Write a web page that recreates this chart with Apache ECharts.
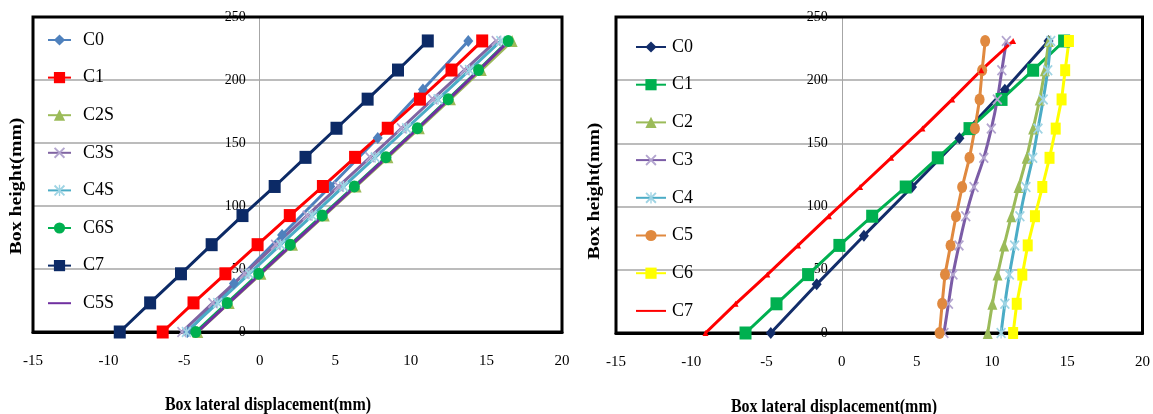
<!DOCTYPE html>
<html>
<head>
<meta charset="utf-8">
<script src="https://cdn.jsdelivr.net/npm/echarts@6/dist/echarts.min.js"></script>
<style>
  html, body { margin: 0; padding: 0; background: #fff; }
  #wrap { position: relative; width: 1153px; height: 414px; }
  #left { position: absolute; left: 0; top: 0; width: 580px; height: 414px; }
  #right { position: absolute; left: 580px; top: 0; width: 573px; height: 414px; }
</style>
</head>
<body>
<div id="wrap"><div id="left"></div><div id="right"></div></div>
<script>
// Axis ticks (mm)
const xTicks = [-15, -10, -5, 0, 5, 10, 15, 20];
const yTicks = [0, 50, 100, 150, 200, 250];

// Measurement heights along the box wall (mm)
const heights11 = [0, 23.1, 46.2, 69.3, 92.4, 115.5, 138.6, 161.7, 184.8, 207.9, 231];
const heights7 = [0, 38.5, 77, 115.5, 154, 192.5, 231];

// Left panel: lateral displacement (mm)
const leftC0 = [-4.78, -1.71, 1.48, 4.67, 7.81, 10.80, 13.80];
const leftC1 = [-6.42, -4.38, -2.27, -0.14, 1.99, 4.18, 6.31, 8.47, 10.60, 12.69, 14.72];
const leftC2S = [-4.10, -2.02, 0.08, 2.17, 4.27, 6.38, 8.48, 10.56, 12.62, 14.66, 16.70];
const leftC3S = [-5.15, -3.10, -1.02, 1.05, 3.14, 5.22, 7.30, 9.38, 11.45, 13.55, 15.65];
const leftC4S = [-4.85, -2.78, -0.70, 1.38, 3.47, 5.55, 7.64, 9.72, 11.80, 13.88, 15.95];
const leftC6S = [-4.23, -2.15, -0.07, 2.02, 4.13, 6.26, 8.35, 10.43, 12.47, 14.48, 16.44];
const leftC7 = [-9.26, -7.25, -5.21, -3.18, -1.14, 0.99, 3.03, 5.08, 7.14, 9.15, 11.12];
const leftC5S = [-4.12, -2.05, 0.03, 2.12, 4.22, 6.32, 8.40, 10.48, 12.52, 14.52, 16.50];

// Right panel: lateral displacement (mm)
const rightC0 = [-4.71, -1.66, 1.48, 4.68, 7.83, 10.85, 13.75];
const rightC1 = [-6.39, -4.33, -2.23, -0.15, 2.03, 4.26, 6.39, 8.50, 10.63, 12.73, 14.79];
const rightC2 = [9.71, 10.02, 10.36, 10.80, 11.28, 11.76, 12.30, 12.73, 13.17, 13.51, 13.77];
const rightC3 = [6.80, 7.10, 7.40, 7.80, 8.25, 8.80, 9.45, 9.95, 10.35, 10.65, 10.95];
const rightC4 = [10.60, 10.85, 11.15, 11.50, 11.85, 12.25, 12.70, 13.05, 13.40, 13.70, 13.90];
const rightC5 = [6.51, 6.68, 6.87, 7.24, 7.60, 8.01, 8.50, 8.86, 9.17, 9.34, 9.54];
const rightC6 = [11.40, 11.64, 12.01, 12.37, 12.85, 13.34, 13.82, 14.23, 14.62, 14.86, 15.11];
const rightC7 = [-9.05, -7.05, -4.94, -2.90, -0.85, 1.23, 3.29, 5.37, 7.35, 9.28, 11.40];

const FONT = '"Liberation Serif", "Times New Roman", serif';

// Thin cross and asterisk marks
const CROSS = 'path://M0,1.2L1.2,0L10,8.8L8.8,10ZM8.8,0L10,1.2L1.2,10L0,8.8Z';
const STAR = 'path://M0,1.2L1.2,0L10,8.8L8.8,10ZM8.8,0L10,1.2L1.2,10L0,8.8ZM4.4,0L5.6,0L5.6,10L4.4,10Z';

function pts(xs, hs) { return xs.map((x, i) => [x, hs[i]]); }

function line(name, xs, hs, color, symbol, size, extra) {
  return Object.assign({
    name: name,
    type: 'line',
    data: pts(xs, hs),
    symbol: symbol,
    symbolSize: size,
    showSymbol: symbol !== 'none',
    lineStyle: { color: color, width: 3 },
    itemStyle: { color: color },
    animation: false,
    z: 12
  }, extra || {});
}

function baseOption(grid, legendPos, legendIconW, textPad, series, titleX, titleY, yTitleX, yTitleY) {
  const xMin = xTicks[0], xMax = xTicks[xTicks.length - 1];
  // the value axis sits on x = 0 inside the plot
  const zeroShift = grid.width * (0 - xMin) / (xMax - xMin);
  return {
    animation: false,
    grid: Object.assign({ show: true, borderColor: '#000', borderWidth: 3, backgroundColor: 'transparent', z: 10 }, grid),
    xAxis: {
      type: 'value',
      min: xMin, max: xMax, interval: 5,
      axisLine: { show: true, onZero: true, lineStyle: { color: '#000', width: 3 } },
      axisTick: { show: false },
      splitLine: { show: false },
      axisLabel: { margin: 22, fontFamily: FONT, fontSize: 15, color: '#000' }
    },
    yAxis: {
      type: 'value',
      position: 'left',
      offset: -zeroShift,
      min: yTicks[0], max: yTicks[yTicks.length - 1], interval: 50,
      axisLine: { show: true, onZero: false, lineStyle: { color: '#a6a6a6', width: 1 } },
      axisTick: { show: false },
      splitLine: { show: true, lineStyle: { color: '#a6a6a6', width: 1.5 } },
      axisLabel: { margin: 14, fontFamily: FONT, fontSize: 14, color: '#000' }
    },
    legend: {
      orient: 'vertical',
      left: legendPos[0], top: legendPos[1], padding: 0,
      itemWidth: legendIconW, itemHeight: 14, itemGap: legendPos[2],
      selectedMode: false,
      textStyle: { fontFamily: FONT, fontSize: 18, color: '#000', lineHeight: 18, padding: [0, 0, 0, textPad] },
      data: series.map(s => s.legendItem || s.name)
    },
    series: series.map(s => { const c = Object.assign({}, s); delete c.legendItem; return c; }),
    graphic: [
      {
        type: 'text', x: titleX, y: titleY, scaleY: 1.2, z: 10,
        style: { text: 'Box lateral displacement(mm)', font: 'bold 16px ' + FONT, fill: '#000',
                 align: 'center', verticalAlign: 'middle', textAlign: 'center', textVerticalAlign: 'middle' }
      },
      {
        type: 'text', x: yTitleX, y: yTitleY, rotation: Math.PI / 2, scaleX: 1.2, z: 10,
        style: { text: 'Box height(mm)', font: 'bold 16.5px ' + FONT, fill: '#000',
                 align: 'center', verticalAlign: 'middle', textAlign: 'center', textVerticalAlign: 'middle' }
      }
    ]
  };
}

// Left panel
const leftSeries = [
  line('C0', leftC0, heights7, '#4f81bd', 'diamond', [10, 12]),
  line('C1', leftC1, heights11, '#ff0000', 'rect', [12, 13]),
  line('C2S', leftC2S, heights11, '#9bbb59', 'triangle', [11, 12]),
  line('C3S', leftC3S, heights11, '#8064a2', CROSS, [10, 11], { itemStyle: { color: '#b3a5cf' } }),
  line('C4S', leftC4S, heights11, '#4bacc6', STAR, [10, 11], { itemStyle: { color: '#9fd4e4' } }),
  line('C6S', leftC6S, heights11, '#00b050', 'circle', [11, 12]),
  line('C7', leftC7, heights11, '#0c2a66', 'rect', [12, 13]),
  line('C5S', leftC5S, heights11, '#7030a0', 'none', 0,
       { legendItem: { name: 'C5S', itemStyle: { opacity: 0 } } })
];

// Right panel
const rightSeries = [
  line('C0', rightC0, heights7, '#132d6a', 'diamond', [10, 12]),
  line('C1', rightC1, heights11, '#00b050', 'rect', [12, 13]),
  line('C2', rightC2, heights11, '#9bbb59', 'triangle', [10, 12]),
  line('C3', rightC3, heights11, '#7b5ca6', CROSS, [10, 11], { smooth: 0.3, itemStyle: { color: '#b3a5cf' } }),
  line('C4', rightC4, heights11, '#4bacc6', STAR, [10, 11], { smooth: 0.3, itemStyle: { color: '#9fd4e4' } }),
  line('C5', rightC5, heights11, '#e0893f', 'circle', [10, 12]),
  line('C6', rightC6, heights11, '#ffff00', 'rect', [10, 12]),
  line('C7', rightC7, heights11, '#ff0000', 'triangle', [6, 6],
       { legendItem: { name: 'C7', itemStyle: { opacity: 0 } } })
];

const leftChart = echarts.init(document.getElementById('left'), null, { renderer: 'canvas' });
leftChart.setOption(baseOption(
  { left: 33, top: 17, width: 529, height: 315 },
  [47, 31, 19.6], 23, 7, leftSeries,
  268, 405, 17, 186
));

const rightChart = echarts.init(document.getElementById('right'), null, { renderer: 'canvas' });
rightChart.setOption(baseOption(
  { left: 36, top: 17, width: 527, height: 316 },
  [55, 38, 19.7], 30, 1, rightSeries,
  254, 407, 15, 191
));
</script>
</body>
</html>
